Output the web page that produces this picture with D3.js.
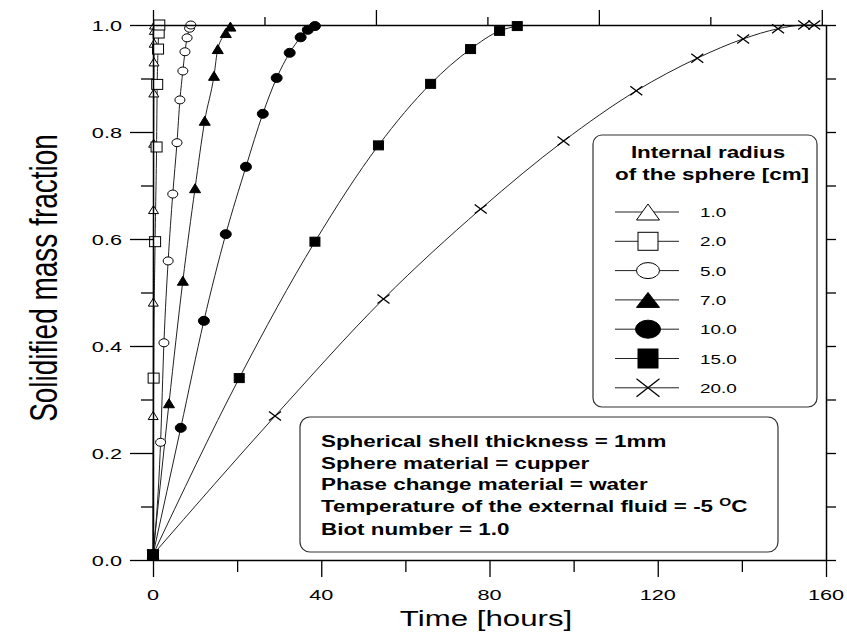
<!DOCTYPE html>
<html>
<head>
<meta charset="utf-8">
<script src="https://cdn.jsdelivr.net/npm/d3@7"></script>
<style>
  body { margin: 0; background: #fff; }
  svg { display: block; }
  text { font-family: Arial, "Liberation Sans", sans-serif; fill: #000; }
</style>
</head>
<body>
<svg id="chart" width="847" height="633"></svg>
<script>
// ---- data: solidified mass fraction vs. time [hours] for each internal radius ----
const radii   = ["1.0", "2.0", "5.0", "7.0", "10.0", "15.0", "20.0"];
const symbols = ["triangleOpen", "squareOpen", "circleOpen", "triangle", "circle", "square", "cross"];

const time1 = [0, 0.04, 0.08, 0.12, 0.16, 0.2, 0.24, 0.28, 0.32, 0.36];
const frac1 = [0.01, 0.27, 0.482, 0.655, 0.779, 0.873, 0.931, 0.966, 0.99, 1.0];

const time2 = [0, 0.15, 0.5, 0.85, 1.0, 1.2, 1.35, 1.5];
const frac2 = [0.01, 0.34, 0.595, 0.772, 0.889, 0.955, 0.985, 1.0];

const time5 = [0, 1.8, 2.6, 3.6, 4.7, 5.7, 6.4, 7.1, 7.6, 8.1, 8.7, 9.0];
const frac5 = [0.01, 0.22, 0.406, 0.559, 0.684, 0.78, 0.86, 0.914, 0.95, 0.976, 0.994, 1.0];

const time7 = [0, 3.8, 7.1, 10.0, 12.3, 14.5, 15.4, 17.3, 18.4];
const frac7 = [0.01, 0.293, 0.522, 0.695, 0.821, 0.905, 0.955, 0.985, 0.997];

const time10 = [0, 6.6, 12.1, 17.3, 22.1, 26.1, 29.4, 32.5, 35.1, 36.8, 38.5];
const frac10 = [0.01, 0.247, 0.447, 0.609, 0.735, 0.834, 0.901, 0.948, 0.977, 0.991, 0.998];

const time15 = [0, 20.5, 38.5, 53.6, 66.0, 75.5, 82.4, 86.6];
const frac15 = [0.01, 0.34, 0.595, 0.775, 0.89, 0.955, 0.989, 0.998];

const time20 = [0, 29.0, 54.8, 77.9, 97.6, 114.9, 129.4, 140.3, 148.6, 154.8, 157.2];
const frac20 = [0.01, 0.269, 0.488, 0.656, 0.783, 0.877, 0.938, 0.974, 0.993, 1.0, 1.0];

const times = [time1, time2, time5, time7, time10, time15, time20];
const fracs = [frac1, frac2, frac5, frac7, frac10, frac15, frac20];

// ---- ticks ----
const xMajor = [0, 40, 80, 120, 160];
const xMinor = [20, 60, 100, 140];
const yMajor = [0, 0.2, 0.4, 0.6, 0.8, 1.0];
const yMinor = [0.1, 0.3, 0.5, 0.7, 0.9];
const yRightTicks = [0, 0.1, 0.2, 0.3, 0.4, 0.5, 0.6, 0.7, 0.8, 0.9, 1.0];
const topMajor = [0, 53, 106, 159];
const topMinor = [26.5, 79.5, 132.5];

const infoLines = [
  "Spherical shell thickness = 1mm",
  "Sphere material = cupper",
  "Phase change material = water",
  "Temperature of the external fluid = -5 ",
  "Biot number = 1.0"
];

// ---- layout ----
const svg = d3.select("#chart");
const x = d3.scaleLinear().domain([0, 160]).range([153, 826]);
const y = d3.scaleLinear().domain([0, 1]).range([560, 25]);
const SX = 1.4; // horizontal glyph stretch used throughout the figure

// text with a horizontal stretch
function label(parent, tx, ty, str, opts = {}) {
  const t = parent.append("text")
    .attr("transform", `translate(${tx},${ty}) scale(${opts.sx || SX},1)`)
    .attr("text-anchor", opts.anchor || "start")
    .attr("font-size", opts.size || 15)
    .attr("font-weight", opts.weight || "normal")
    .text(str);
  return t;
}

// marker drawing, centred at 0,0 with width w and height h
function marker(g, type, w, h) {
  const open = type.endsWith("Open");
  const fill = open ? "#fff" : "#000";
  if (type.startsWith("triangle")) {
    g.append("path")
      .attr("d", `M0,${-h / 2}L${w / 2},${h / 2}L${-w / 2},${h / 2}Z`)
      .attr("fill", fill).attr("stroke", "#000").attr("stroke-width", 1);
  } else if (type.startsWith("square")) {
    g.append("rect")
      .attr("x", -w / 2).attr("y", -h / 2).attr("width", w).attr("height", h)
      .attr("fill", fill).attr("stroke", "#000").attr("stroke-width", 1);
  } else if (type.startsWith("circle")) {
    g.append("ellipse")
      .attr("rx", w / 2).attr("ry", h / 2)
      .attr("fill", fill).attr("stroke", "#000").attr("stroke-width", 1);
  } else if (type === "cross") {
    g.append("path")
      .attr("d", `M${-w / 2},${-h / 2}L${w / 2},${h / 2}M${-w / 2},${h / 2}L${w / 2},${-h / 2}`)
      .attr("fill", "none").attr("stroke", "#000").attr("stroke-width", 1.3);
  }
}
const plotSize = {
  triangleOpen: [10, 8], squareOpen: [11, 10], circleOpen: [10, 8],
  triangle: [11, 9], circle: [11, 9], square: [10, 9], cross: [12, 9]
};
const legendSize = {
  triangleOpen: [23, 16], squareOpen: [20, 18], circleOpen: [23, 16],
  triangle: [23, 15], circle: [25, 18], square: [20, 19], cross: [23, 18]
};

// ---- curves ----
const line = d3.line()
  .x(d => x(d[0])).y(d => y(d[1]))
  .curve(d3.curveMonotoneX);

const seriesData = radii.map((r, i) => ({
  radius: r, symbol: symbols[i],
  points: times[i].map((t, k) => [t, fracs[i][k]])
}));

const curves = svg.append("g");
curves.selectAll("path").data(seriesData).join("path")
  .attr("d", d => line(d.points))
  .attr("fill", "none").attr("stroke", "#222").attr("stroke-width", 1);

const markers = svg.append("g");
seriesData.forEach(s => {
  s.points.forEach(p => {
    const g = markers.append("g").attr("transform", `translate(${x(p[0])},${y(p[1])})`);
    marker(g, s.symbol, plotSize[s.symbol][0], plotSize[s.symbol][1]);
  });
});

// ---- axes ----
function styleAxis(g, keepDomain) {
  g.selectAll("text").remove();
  if (!keepDomain) g.select(".domain").remove();
  g.select(".domain").attr("stroke", "#000").attr("stroke-width", 1.5);
  g.selectAll(".tick line").attr("stroke", "#000").attr("stroke-width", 1.3);
}
const axes = svg.append("g");
axes.append("g").attr("transform", `translate(0,${y(0)})`)
  .call(d3.axisBottom(x).tickValues(xMajor).tickSize(17).tickSizeOuter(0)).call(g => styleAxis(g, true));
axes.append("g").attr("transform", `translate(0,${y(0)})`)
  .call(d3.axisBottom(x).tickValues(xMinor).tickSize(12).tickSizeOuter(0)).call(g => styleAxis(g, false));
axes.append("g").attr("transform", `translate(0,${y(1)})`)
  .call(d3.axisTop(x).tickValues(topMajor).tickSize(15).tickSizeOuter(0)).call(g => styleAxis(g, true));
axes.append("g").attr("transform", `translate(0,${y(1)})`)
  .call(d3.axisTop(x).tickValues(topMinor).tickSize(8).tickSizeOuter(0)).call(g => styleAxis(g, false));
axes.append("g").attr("transform", `translate(${x(0)},0)`)
  .call(d3.axisLeft(y).tickValues(yMajor).tickSize(23).tickSizeOuter(0)).call(g => styleAxis(g, true));
axes.append("g").attr("transform", `translate(${x(0)},0)`)
  .call(d3.axisLeft(y).tickValues(yMinor).tickSize(12).tickSizeOuter(0)).call(g => styleAxis(g, false));
axes.append("g").attr("transform", `translate(${x(160)},0)`)
  .call(d3.axisRight(y).tickValues(yRightTicks).tickSize(10).tickSizeOuter(0)).call(g => styleAxis(g, true));

// tick labels
const labels = svg.append("g");
xMajor.forEach(v => label(labels, x(v), 600, String(v), { anchor: "middle", size: 15.5 }));
yMajor.forEach(v => label(labels, 122, y(v) + 5.5, v.toFixed(1), { anchor: "end", size: 15.5 }));

// axis titles
label(labels, 486, 626, "Time [hours]", { anchor: "middle", size: 22, sx: 1.42 });
labels.append("text")
  .attr("transform", `translate(57,278) rotate(-90) scale(1,${SX})`)
  .attr("text-anchor", "middle").attr("font-size", 28)
  .text("Solidified mass fraction");

// ---- legend ----
const legend = svg.append("g");
legend.append("rect")
  .attr("x", 593).attr("y", 135).attr("width", 224).attr("height", 272)
  .attr("rx", 9).attr("fill", "#fff").attr("stroke", "#333").attr("stroke-width", 1.2);
label(legend, 708, 158, "Internal radius", { anchor: "middle", size: 16, weight: "bold" });
label(legend, 712, 180, "of the sphere [cm]", { anchor: "middle", size: 16, weight: "bold" });
seriesData.forEach((s, i) => {
  const cy = 212 + i * 29.3;
  legend.append("line").attr("x1", 615).attr("x2", 679).attr("y1", cy).attr("y2", cy)
    .attr("stroke", "#222").attr("stroke-width", 1);
  const g = legend.append("g").attr("transform", `translate(648,${cy})`);
  marker(g, s.symbol, legendSize[s.symbol][0], legendSize[s.symbol][1]);
  label(legend, 700, cy + 5, s.radius, { size: 13.5 });
});

// ---- parameter box ----
const info = svg.append("g");
info.append("rect")
  .attr("x", 300).attr("y", 417).attr("width", 478).attr("height", 135)
  .attr("rx", 10).attr("fill", "#fff").attr("stroke", "#333").attr("stroke-width", 1.2);
const baselines = [447, 468.5, 490, 512, 535];
infoLines.forEach((str, i) => {
  const t = label(info, 321, baselines[i], str, { size: 16, weight: "bold" });
  if (i === 3) {
    t.append("tspan").attr("font-size", 11).attr("dy", -6).text("O");
    t.append("tspan").attr("dy", 6).text("C");
  }
});
</script>
</body>
</html>
